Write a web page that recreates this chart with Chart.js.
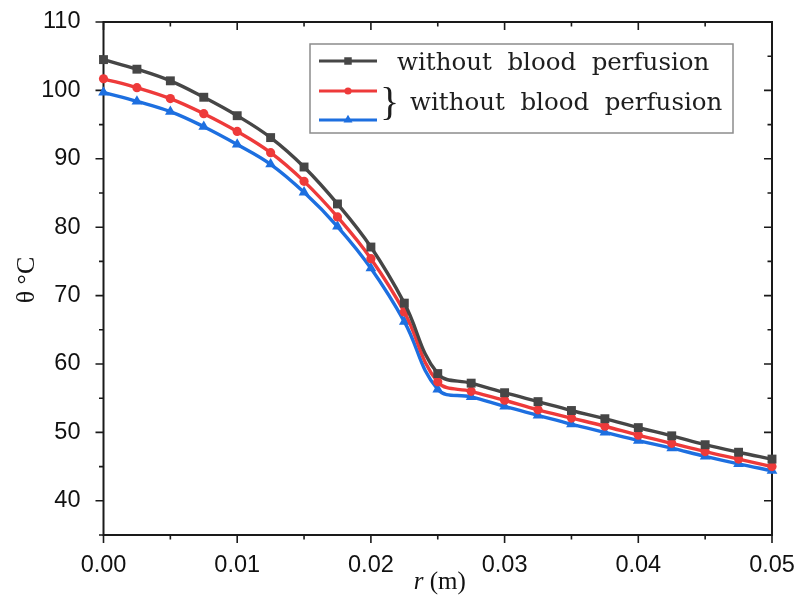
<!DOCTYPE html>
<html>
<head>
<meta charset="utf-8">
<script src="https://cdn.jsdelivr.net/npm/chart.js@4.4.0/dist/chart.umd.min.js"></script>
<style>
  html, body { margin: 0; padding: 0; background: #fff; }
  #wrap { width: 798px; height: 595px; }
</style>
</head>
<body>
<div id="wrap"><canvas id="chart" width="798" height="595"></canvas></div>
<script>
// radius r (m), one sample every 0.0025 m
const rValues = [0, 0.0025, 0.005, 0.0075, 0.01, 0.0125, 0.015, 0.0175, 0.02, 0.0225, 0.025,
                 0.0275, 0.03, 0.0325, 0.035, 0.0375, 0.04, 0.0425, 0.045, 0.0475, 0.05];
// temperature θ (°C) for the three curves
const tempGray = [104.5, 103.1, 101.4, 99.0, 96.3, 93.1, 88.8, 83.4, 77.1, 68.9, 58.6,
                  57.2, 55.8, 54.5, 53.2, 52.0, 50.7, 49.5, 48.2, 47.1, 46.1];
const tempRed = [101.7, 100.4, 98.8, 96.6, 94.0, 90.9, 86.7, 81.5, 75.4, 67.6, 57.4,
                 56.0, 54.7, 53.3, 52.1, 50.9, 49.6, 48.4, 47.2, 46.1, 45.0];
const tempBlue = [99.7, 98.4, 96.9, 94.7, 92.1, 89.2, 85.1, 80.1, 74.0, 66.2, 56.3,
                  55.2, 53.8, 52.5, 51.2, 50.0, 48.8, 47.7, 46.5, 45.4, 44.4];
const xTicks = [0, 0.01, 0.02, 0.03, 0.04, 0.05];
const yTicks = [40, 50, 60, 70, 80, 90, 100, 110];
const legendLabels = ['without  blood  perfusion', 'without  blood  perfusion'];
const xTitle = ['r', ' (m)'];
const yTitle = 'θ °C';

const GRAY = '#464646', RED = '#ee3a3a', BLUE = '#1d6fe0';

const toPoints = ys => ys.map((y, i) => ({ x: rValues[i], y: y }));

function lineSet(label, values, color, style, radius) {
    return {
        label: label,
        data: toPoints(values),
        borderColor: color,
        backgroundColor: color,
        borderWidth: 3.4,
        pointStyle: style,
        pointRadius: radius,
        pointBorderWidth: 0,
        tension: 0.4,
        clip: false
    };
}

// box frame with major / minor ticks (left+bottom outward, top+right inward)
const framePlugin = {
    id: 'frame',
    beforeDatasetsDraw(chart) {
        const ctx = chart.ctx;
        const a = chart.chartArea;
        const xs = chart.scales.x, ys = chart.scales.y;
        ctx.save();
        ctx.strokeStyle = '#1a1a1a';
        ctx.lineWidth = 2;
        ctx.strokeRect(a.left, a.top, a.right - a.left, a.bottom - a.top);
        ctx.lineWidth = 1.6;
        ctx.beginPath();
        for (let i = 0; i <= 10; i++) {
            const px = xs.getPixelForValue(i * 0.005);
            const len = i % 2 === 0 ? 8 : 4.5;
            ctx.moveTo(px, a.bottom); ctx.lineTo(px, a.bottom + len);
            ctx.moveTo(px, a.top); ctx.lineTo(px, a.top + len);
        }
        for (let v = 35; v <= 110; v += 5) {
            const py = ys.getPixelForValue(v);
            const len = v % 10 === 0 ? 8 : 4.5;
            ctx.moveTo(a.left, py); ctx.lineTo(a.left - len, py);
            ctx.moveTo(a.right, py); ctx.lineTo(a.right - len, py);
        }
        ctx.stroke();
        ctx.restore();
    }
};

// legend box with a brace grouping the last two entries, plus axis titles
const annotationPlugin = {
    id: 'annotations',
    afterDraw(chart) {
        const ctx = chart.ctx;
        const a = chart.chartArea;
        ctx.save();
        ctx.fillStyle = '#fff';
        ctx.fillRect(310, 44, 423, 89);
        ctx.strokeStyle = '#8c8c8c';
        ctx.lineWidth = 1.5;
        ctx.strokeRect(310, 44, 423, 89);

        const rows = [61, 91, 120];
        chart.data.datasets.forEach((ds, i) => {
            ctx.strokeStyle = ds.borderColor;
            ctx.lineWidth = 3;
            ctx.beginPath();
            ctx.moveTo(319, rows[i]);
            ctx.lineTo(377, rows[i]);
            ctx.stroke();
            ctx.fillStyle = ds.backgroundColor;
            Chart.helpers.drawPoint(ctx, {
                pointStyle: ds.pointStyle, radius: ds.pointRadius - 1, rotation: 0, borderWidth: 0
            }, 348, rows[i]);
        });

        ctx.fillStyle = '#1e1e1e';
        ctx.textBaseline = 'middle';
        ctx.textAlign = 'left';
        ctx.font = '24.5px "DejaVu Serif"';
        ctx.fillText(legendLabels[0], 397, 64);
        ctx.fillText(legendLabels[1], 410, 104);
        ctx.font = '40px "Liberation Serif"';
        ctx.fillText('}', 380, 104);

        // x title: italic r followed by (m)
        ctx.fillStyle = '#111';
        ctx.textBaseline = 'alphabetic';
        ctx.font = 'italic 25px "Liberation Serif"';
        const w1 = ctx.measureText(xTitle[0]).width;
        ctx.font = '25px "Liberation Serif"';
        const w2 = ctx.measureText(xTitle[1]).width;
        const x0 = (a.left + a.right) / 2 + 2 - (w1 + w2) / 2;
        ctx.font = 'italic 25px "Liberation Serif"';
        ctx.fillText(xTitle[0], x0, 589);
        ctx.font = '25px "Liberation Serif"';
        ctx.fillText(xTitle[1], x0 + w1, 589);

        // y title, rotated
        ctx.translate(27, 280);
        ctx.rotate(-Math.PI / 2);
        ctx.textAlign = 'center';
        ctx.textBaseline = 'middle';
        ctx.font = '26px "Liberation Serif"';
        ctx.fillText(yTitle, 0, 0);
        ctx.restore();
    }
};

const tickFont = { family: '"Liberation Sans", Arial', size: 23.5 };

new Chart(document.getElementById('chart').getContext('2d'), {
    type: 'line',
    data: {
        datasets: [
            lineSet(legendLabels[0], tempGray, GRAY, 'rect', 6.3),
            lineSet(legendLabels[1], tempRed, RED, 'circle', 4.6),
            lineSet(legendLabels[1], tempBlue, BLUE, 'triangle', 6.2)
        ]
    },
    options: {
        responsive: false,
        animation: false,
        layout: { padding: { top: 22, right: 26, left: 0, bottom: 0 } },
        plugins: { legend: { display: false }, tooltip: { enabled: false } },
        scales: {
            x: {
                type: 'linear',
                min: 0,
                max: 0.05,
                afterBuildTicks: s => { s.ticks = xTicks.map(v => ({ value: v })); },
                afterFit: s => { s.height = 60; s.paddingLeft = 0; s.paddingRight = 0; },
                grid: { display: false },
                border: { display: false },
                ticks: {
                    font: tickFont, color: '#111', padding: 8, autoSkip: false, maxRotation: 0,
                    callback: v => v.toFixed(2)
                }
            },
            y: {
                min: 35,
                max: 110,
                afterBuildTicks: s => { s.ticks = yTicks.map(v => ({ value: v })); },
                afterFit: s => { s.width = 103.5; s.paddingTop = 0; s.paddingBottom = 0; },
                grid: { display: false },
                border: { display: false },
                ticks: { font: tickFont, color: '#111', padding: 15, autoSkip: false }
            }
        }
    },
    plugins: [framePlugin, annotationPlugin]
});
</script>
</body>
</html>
